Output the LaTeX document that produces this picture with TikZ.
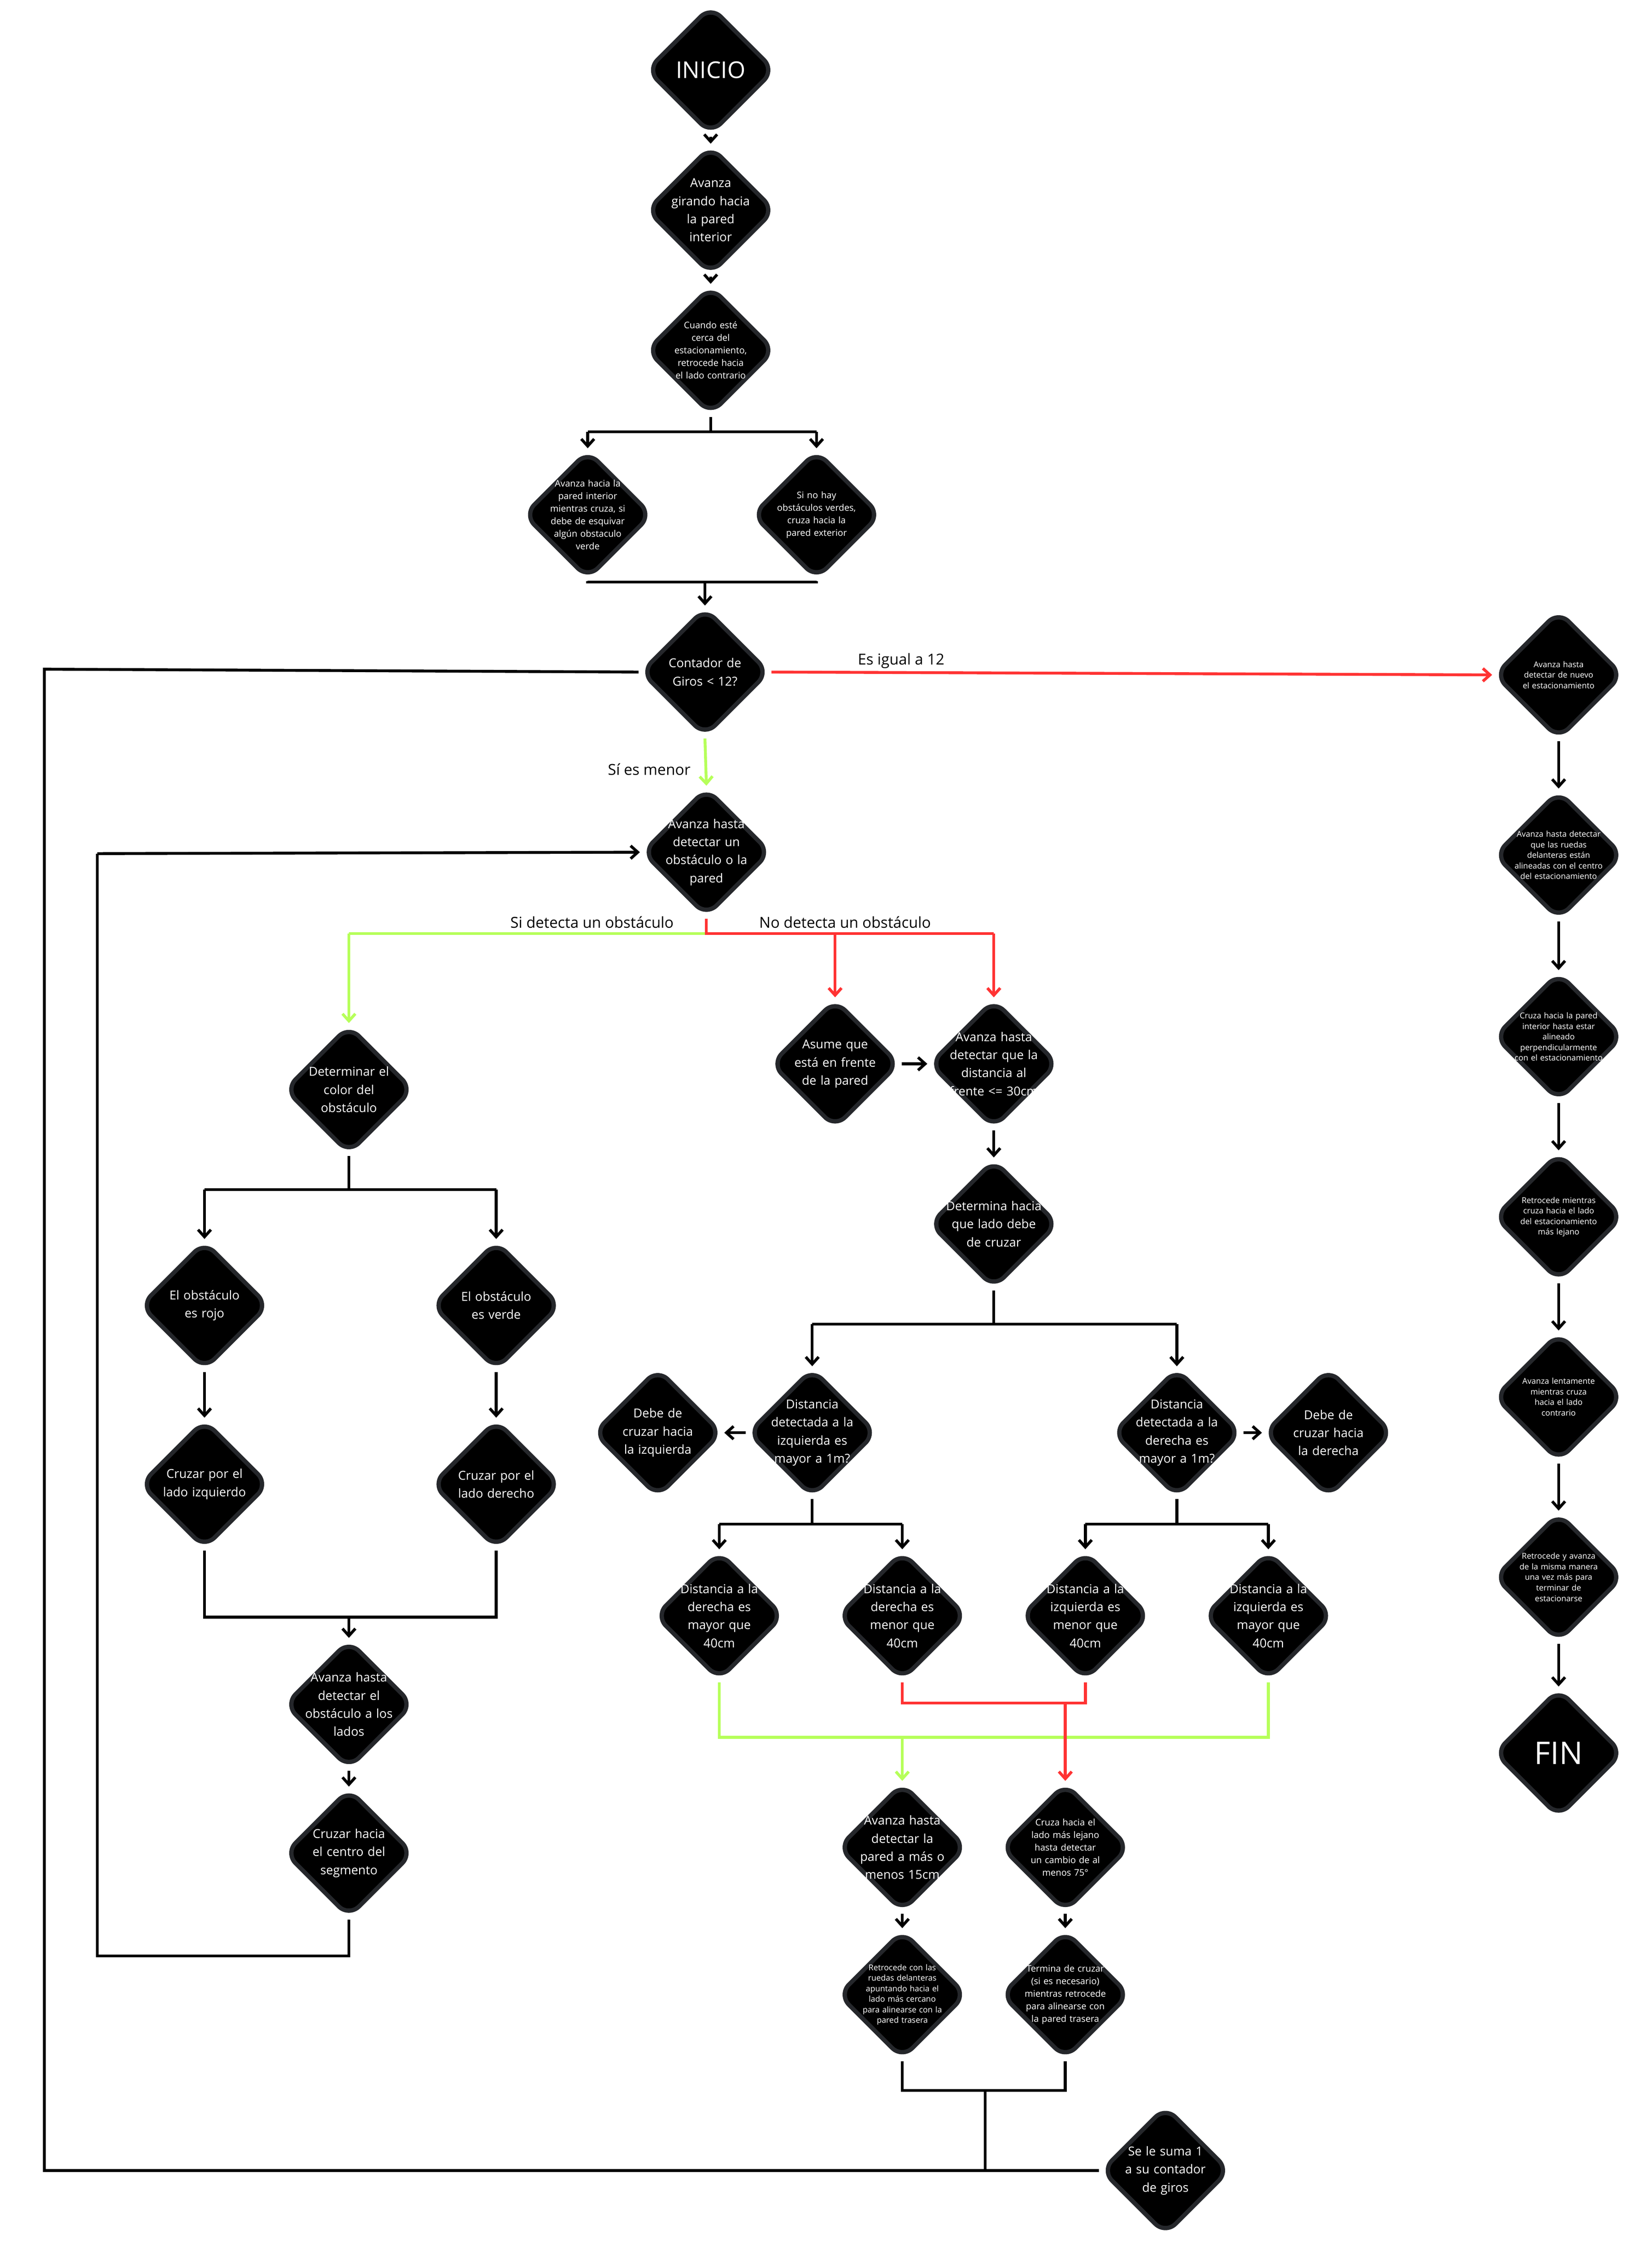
\documentclass[tikz,border=0pt]{standalone}
\usepackage{fontspec}
\setmainfont{Open Sans}
\usetikzlibrary{shapes.geometric,arrows.meta}
\definecolor{gr}{HTML}{B6FF5A}
\definecolor{rd}{HTML}{FF3333}
\definecolor{bd}{HTML}{25272B}
\tikzset{x=1mm,y=-1mm,
 dia/.style={diamond,aspect=1,minimum size=90mm,inner sep=0pt,fill=black,draw=bd,line width=3mm,rounded corners=10mm},
 tx/.style={text=white,align=center,inner sep=0pt},
 tm/.style={tx,font=\fontsize{24.5}{36}\selectfont,text width=80mm},
 ts/.style={tx,font=\fontsize{18}{25}\selectfont,text width=70mm},
 tt/.style={tx,font=\fontsize{16}{21}\selectfont,text width=75mm},
 ln/.style={line width=2mm,black},
 ar/.style={ln,-{Straight Barb[length=5mm,width=9mm,line width=2mm]}},
 lab/.style={font=\fontsize{30}{36}\selectfont,text=black,inner sep=0pt}}
\newcommand\dn[4]{\node[dia] (#1) at (#2) {};\node[#3] at (#1) {#4};}
\begin{document}
\begin{tikzpicture}
\useasboundingbox[fill=white] (0,0) rectangle (1155,1568);
\dn{ini}{497,49}{tx,font=\fontsize{46}{50}\selectfont}{INICIO}
\dn{gir}{497,147}{tm}{Avanza\\girando hacia\\la pared\\interior}
\dn{cua}{497,245}{ts}{Cuando esté\\cerca del\\estacionamiento,\\retrocede hacia\\el lado contrario}
\dn{pl}{411,360}{ts}{Avanza hacia la\\pared interior\\mientras cruza, si\\debe de esquivar\\algún obstaculo\\verde}
\dn{pr}{571,360}{ts}{Si no hay\\obstáculos verdes,\\cruza hacia la\\pared exterior}
\dn{con}{493,470}{tm}{Contador de\\Giros < 12?}
\dn{r1}{1090,472}{tt}{Avanza hasta\\detectar de nuevo\\el estacionamiento}
\dn{r2}{1090,598}{tt}{Avanza hasta detectar\\que las ruedas\\delanteras están\\alineadas con el centro\\del estacionamiento}
\dn{r3}{1090,725}{tt}{Cruza hacia la pared\\interior hasta estar\\alineado\\perpendicularmente\\con el estacionamiento}
\dn{r4}{1090,851}{tt}{Retrocede mientras\\cruza hacia el lado\\del estacionamiento\\más lejano}
\dn{r5}{1090,977}{tt}{Avanza lentamente\\mientras cruza\\hacia el lado\\contrario}
\dn{r6}{1090,1103}{tt}{Retrocede y avanza\\de la misma manera\\una vez más para\\terminar de\\estacionarse}
\dn{fin}{1090,1226}{tx,font=\fontsize{62}{66}\selectfont}{FIN}
\dn{obs}{494,596}{tm}{Avanza hasta\\detectar un\\obstáculo o la\\pared}
\dn{col}{244,762}{tm}{Determinar el\\color del\\obstáculo}
\dn{asu}{584,744}{tm}{Asume que\\está en frente\\de la pared}
\dn{d30}{695,744}{tm}{Avanza hasta\\detectar que la\\distancia al\\frente <= 30cm}
\dn{lad}{695,856}{tm}{Determina hacia\\que lado debe\\de cruzar}
\dn{roj}{143,913}{tm}{El obstáculo\\es rojo}
\dn{ver}{347,913}{tm}{El obstáculo\\es verde}
\dn{ciz}{143,1038}{tm}{Cruzar por el\\lado izquierdo}
\dn{cde}{347,1038}{tm}{Cruzar por el\\lado derecho}
\dn{alo}{244,1192}{tm}{Avanza hasta\\detectar el\\obstáculo a los\\lados}
\dn{cen}{244,1296}{tm}{Cruzar hacia\\el centro del\\segmento}
\dn{diz}{568,1002}{tm}{Distancia\\detectada a la\\izquierda es\\mayor a 1m?}
\dn{diz2}{460,1002}{tm}{Debe de\\cruzar hacia\\la izquierda}
\dn{dde}{823,1002}{tm}{Distancia\\detectada a la\\derecha es\\mayor a 1m?}
\dn{dde2}{929,1002}{tm}{Debe de\\cruzar hacia\\la derecha}
\dn{a1}{503,1130}{tm}{Distancia a la\\derecha es\\mayor que\\40cm}
\dn{a2}{631,1130}{tm}{Distancia a la\\derecha es\\menor que\\40cm}
\dn{a3}{759,1130}{tm}{Distancia a la\\izquierda es\\menor que\\40cm}
\dn{a4}{887,1130}{tm}{Distancia a la\\izquierda es\\mayor que\\40cm}
\dn{p15}{631,1292}{tm}{Avanza hasta\\detectar la\\pared a más o\\menos 15cm}
\dn{c75}{745,1292}{ts}{Cruza hacia el\\lado más lejano\\hasta detectar\\un cambio de al\\menos 75°}
\dn{ret}{631,1395}{tt}{Retrocede con las\\ruedas delanteras\\apuntando hacia el\\lado más cercano\\para alinearse con la\\pared trasera}
\dn{ter}{745,1395}{ts}{Termina de cruzar\\(si es necesario)\\mientras retrocede\\para alinearse con\\la pared trasera}
\dn{sum}{815,1518}{tm}{Se le suma 1\\a su contador\\de giros}
% connectors
\draw[ar] (ini) -- (gir);
\draw[ar] (gir) -- (cua);
\draw[ln] (cua.south) -- (497,302);
\draw[ln] (411,302) -- (571,302);
\draw[ar] (411,302) -- (pl.north);
\draw[ar] (571,302) -- (pr.north);
\draw[ln] (pl.south) |- (571,407) -- (pr.south);
\draw[ar] (493,407) -- (con.north);
\draw[ar,rd] (con.east) -- (r1.west) node[lab,pos=0.18,above=2mm]{Es igual a 12};
\foreach \a/\b in {r1/r2,r2/r3,r3/r4,r4/r5,r5/r6,r6/fin} \draw[ar] (\a) -- (\b);
\draw[ar,gr] (con.south) -- (obs.north);
\node[lab] at (454,538) {Sí es menor};
\coordinate (lp) at (31,1518);
\draw[ln] (con.west) -- (31,468) -- (lp) -- (sum.west);
\draw[gr,line width=2mm] (obs.south) |- (244,653);
\draw[ar,gr] (244,653) -- (col.north);
\node[lab] at (414,645) {Si detecta un obstáculo};
\draw[rd,line width=2mm] (obs.south) |- (695,653);
\draw[ar,rd] (584,653) -- (asu.north);
\draw[ar,rd] (695,653) -- (d30.north);
\node[lab] at (591,645) {No detecta un obstáculo};
\draw[ar] (asu) -- (d30);
\draw[ar] (d30) -- (lad);
\draw[ln] (lad.south) -- (695,926);
\draw[ln] (568,926) -- (823,926);
\draw[ar] (568,926) -- (diz.north);
\draw[ar] (823,926) -- (dde.north);
\draw[ar] (diz) -- (diz2);
\draw[ar] (dde) -- (dde2);
\draw[ln] (diz.south) -- (568,1066); \draw[ln] (503,1066) -- (631,1066);
\draw[ar] (503,1066) -- (a1.north); \draw[ar] (631,1066) -- (a2.north);
\draw[ln] (dde.south) -- (823,1066); \draw[ln] (759,1066) -- (887,1066);
\draw[ar] (759,1066) -- (a3.north); \draw[ar] (887,1066) -- (a4.north);
\draw[gr,line width=2mm] (a1.south) |- (887,1215) -- (a4.south);
\draw[ar,gr] (631,1215) -- (p15.north);
\draw[rd,line width=2mm] (a2.south) |- (759,1191) -- (a3.south);
\draw[ar,rd] (745,1191) -- (c75.north);
\draw[ar] (p15) -- (ret);
\draw[ar] (c75) -- (ter);
\draw[ln] (ret.south) |- (745,1462) -- (ter.south);
\draw[ln] (689,1462) -- (689,1518);
\draw[ln] (col.south) -- (244,832);
\draw[ln] (143,832) -- (347,832);
\draw[ar] (143,832) -- (roj.north);
\draw[ar] (347,832) -- (ver.north);
\draw[ar] (roj) -- (ciz);
\draw[ar] (ver) -- (cde);
\draw[ln] (ciz.south) |- (347,1131) -- (cde.south);
\draw[ar] (244,1131) -- (alo.north);
\draw[ar] (alo) -- (cen);
\draw[ln] (cen.south) -- (244,1368) -- (68,1368) -- (68,597);
\draw[ar] (68,597) -- (obs.west);
\end{tikzpicture}
\end{document}
